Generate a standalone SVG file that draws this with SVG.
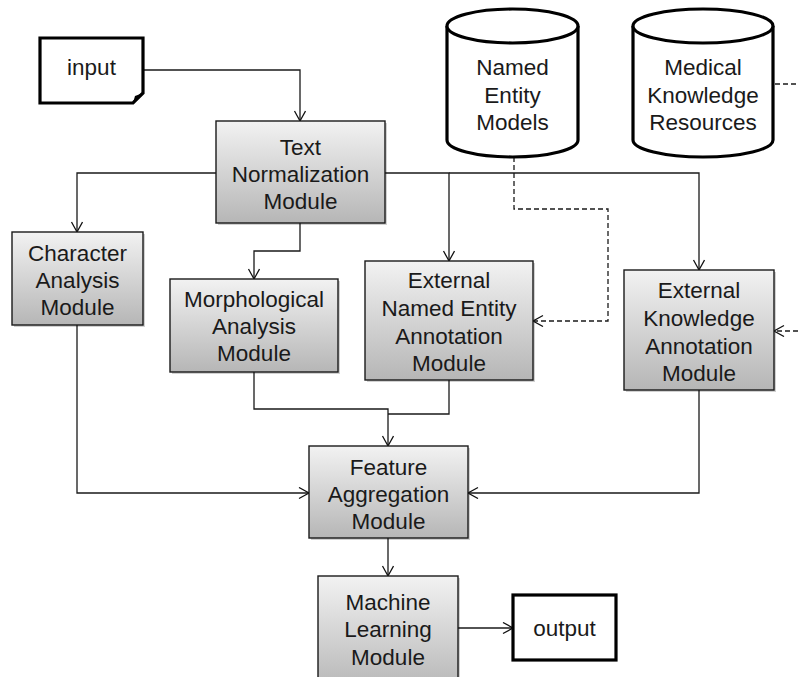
<svg xmlns="http://www.w3.org/2000/svg" width="798" height="677" viewBox="0 0 798 677">
<defs>
<linearGradient id="g" x1="0" y1="0" x2="0" y2="1">
<stop offset="0" stop-color="#f2f2f2"/>
<stop offset="1" stop-color="#b6b6b6"/>
</linearGradient>
<marker id="a" markerUnits="userSpaceOnUse" markerWidth="14" markerHeight="14" refX="11" refY="6" orient="auto">
<path d="M1,0.5 L11,6 L1,11.5" fill="none" stroke="#111" stroke-width="1.3"/>
</marker>
<style>
.m{fill:url(#g);stroke:#1a1a1a;stroke-width:1.4}
.sh{fill:#000;opacity:0.18}
.t{font-family:"Liberation Sans",Arial,sans-serif;font-size:22.5px;fill:#1a1a1a;text-anchor:middle}
.c{fill:none;stroke:#1a1a1a;stroke-width:1.3}
.d{fill:none;stroke:#1a1a1a;stroke-width:1.3;stroke-dasharray:5 3}
.k{fill:#fff;stroke:#000;stroke-width:3.2}
</style>
</defs>
<rect width="798" height="677" fill="#fff"/>
<g id="connectors">
<path class="c" d="M143,70 H300 V121" marker-end="url(#a)"/>
<path class="c" d="M216,173 H77 V232" marker-end="url(#a)"/>
<path class="c" d="M385,173 H449 V261" marker-end="url(#a)"/>
<path class="c" d="M449,173 H699 V270" marker-end="url(#a)"/>
<path class="c" d="M300,223 V251 H254 V279" marker-end="url(#a)"/>
<path class="d" d="M514,157 V209 H608 V321 H533" marker-end="url(#a)"/>
<path class="d" d="M775,84 H798"/>
<path class="d" d="M798,331 H774" marker-end="url(#a)"/>
<path class="c" d="M77,325 V493 H309" marker-end="url(#a)"/>
<path class="c" d="M254,372 V409 H388 V446" marker-end="url(#a)"/>
<path class="c" d="M449,380 V414 H388"/>
<path class="c" d="M699,390 V493 H468" marker-end="url(#a)"/>
<path class="c" d="M388,538 V576" marker-end="url(#a)"/>
<path class="c" d="M458,628 H513" marker-end="url(#a)"/>
</g>
<g id="input">
<path class="k" d="M40,38 H143 V93 L133,103 H40 Z"/>
<path d="M133,103 L135,96 L143,93 Z" fill="#000"/>
<text class="t" x="91.5" y="75">input</text>
</g>
<g id="text-normalization">
<rect class="sh" x="218" y="123" width="169" height="102"/>
<rect class="m" x="216" y="121" width="169" height="102"/>
<text class="t" x="300.5" y="155">Text</text>
<text class="t" x="300.5" y="182">Normalization</text>
<text class="t" x="300.5" y="209">Module</text>
</g>
<g id="character-analysis">
<rect class="sh" x="14" y="234" width="131" height="93"/>
<rect class="m" x="12" y="232" width="131" height="93"/>
<text class="t" x="77.5" y="261">Character</text>
<text class="t" x="77.5" y="288">Analysis</text>
<text class="t" x="77.5" y="315">Module</text>
</g>
<g id="morphological-analysis">
<rect class="sh" x="172" y="281" width="168" height="93"/>
<rect class="m" x="170" y="279" width="168" height="93"/>
<text class="t" x="254" y="307">Morphological</text>
<text class="t" x="254" y="334">Analysis</text>
<text class="t" x="254" y="361">Module</text>
</g>
<g id="external-ne-annotation">
<rect class="sh" x="367" y="263" width="168" height="119"/>
<rect class="m" x="365" y="261" width="168" height="119"/>
<text class="t" x="449" y="288">External</text>
<text class="t" x="449" y="316">Named Entity</text>
<text class="t" x="449" y="344">Annotation</text>
<text class="t" x="449" y="371">Module</text>
</g>
<g id="external-knowledge-annotation">
<rect class="sh" x="626" y="272" width="150" height="120"/>
<rect class="m" x="624" y="270" width="150" height="120"/>
<text class="t" x="699" y="298">External</text>
<text class="t" x="699" y="326">Knowledge</text>
<text class="t" x="699" y="354">Annotation</text>
<text class="t" x="699" y="381">Module</text>
</g>
<g id="named-entity-models">
<path class="k" d="M447,26 V140 A65.5,17 0 0 0 578,140 V26"/>
<ellipse class="k" cx="512.5" cy="26" rx="65.5" ry="17"/>
<text class="t" x="512.5" y="75">Named</text>
<text class="t" x="512.5" y="103">Entity</text>
<text class="t" x="512.5" y="130">Models</text>
</g>
<g id="medical-knowledge-resources">
<path class="k" d="M633,26 V140 A70,17 0 0 0 773,140 V26"/>
<ellipse class="k" cx="703" cy="26" rx="70" ry="17"/>
<text class="t" x="703" y="75">Medical</text>
<text class="t" x="703" y="103">Knowledge</text>
<text class="t" x="703" y="130">Resources</text>
</g>
<g id="feature-aggregation">
<rect class="sh" x="311" y="448" width="159" height="92"/>
<rect class="m" x="309" y="446" width="159" height="92"/>
<text class="t" x="388.5" y="475">Feature</text>
<text class="t" x="388.5" y="502">Aggregation</text>
<text class="t" x="388.5" y="529">Module</text>
</g>
<g id="machine-learning">
<rect class="sh" x="320" y="578" width="140" height="115"/>
<rect class="m" x="318" y="576" width="140" height="115"/>
<text class="t" x="388" y="610">Machine</text>
<text class="t" x="388" y="637">Learning</text>
<text class="t" x="388" y="665">Module</text>
</g>
<g id="output">
<rect class="k" x="513" y="595" width="103" height="65"/>
<text class="t" x="564.5" y="636">output</text>
</g>
</svg>
